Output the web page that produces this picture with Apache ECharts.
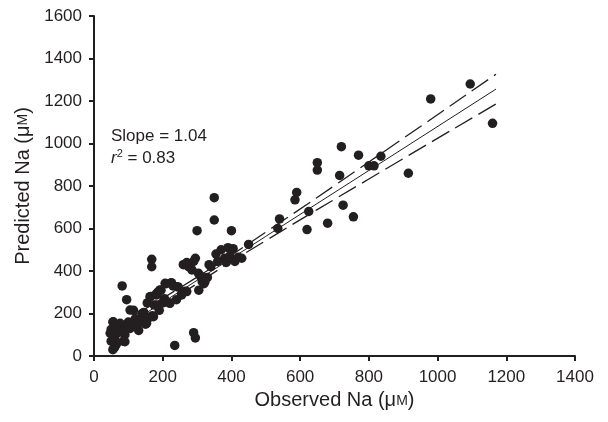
<!DOCTYPE html>
<html>
<head>
<meta charset="utf-8">
<script src="https://cdn.jsdelivr.net/npm/echarts@6/dist/echarts.min.js"></script>
<style>html,body{margin:0;padding:0;background:#fff;}#c{width:608px;height:422px;}</style>
</head>
<body>
<div id="c"></div>
<script>
var obsX = [55,60,65,50,60,55,70,50,65,55,75,80,90,85,95,100,105,110,120,125,130,140,150,160,170,115,95,82,140,145,
  155,165,175,180,185,190,195,200,205,210,220,225,230,240,245,255,260,265,270,275,285,290,295,300,305,310,315,320,330,335,
  340,350,350,355,360,370,380,385,390,395,400,405,410,420,430,450,168,168,290,295,235,
  76,105,124,139,153,173,56,61,47,90,163,182,192,207,226,241,255,270,304,313,323,221,182,143,
  535,540,585,590,620,625,650,650,680,715,720,725,755,770,800,815,835,915,980,1095,1160];
var predY = [30,40,55,70,85,100,110,125,140,160,150,120,100,70,135,160,130,150,175,145,120,160,150,180,190,215,265,330,200,205,
  250,280,240,290,300,215,310,250,270,340,250,345,330,265,325,290,430,305,440,420,405,445,460,590,310,375,350,340,370,430,
  420,745,640,480,445,500,460,440,510,470,590,505,445,465,460,525,455,420,110,85,50,
  154,216,146,169,154,185,161,122,107,67,279,287,311,342,342,326,287,303,389,373,350,248,240,201,
  600,645,735,770,595,680,910,875,625,850,985,710,655,945,895,895,940,860,1210,1280,1095];
var fitX = [50,300,500,800,1170];
var fitY = [97,356,563,873,1256];
var upperY = [127,371,583,913,1326];
var lowerY = [67,341,543,833,1186];
var xTicks = [0,200,400,600,800,1000,1200,1400];
var yTicks = [0,200,400,600,800,1000,1200,1400,1600];

function pairs(a,b){return a.map(function(v,i){return [v,b[i]];});}
var font = '"Liberation Sans", Arial, Helvetica, sans-serif';
var ink = '#231f20';
var chart = echarts.init(document.getElementById('c'), null, {renderer:'canvas'});
function axis(extra){
  return Object.assign({
    type:'value',
    axisLine:{show:true,lineStyle:{color:ink,width:2}},
    axisTick:{show:true,length:5,lineStyle:{color:ink,width:2}},
    splitLine:{show:false},
    nameLocation:'middle',
    nameTextStyle:{color:ink,fontSize:20,fontFamily:font,
      rich:{sm:{fontSize:14,fontFamily:font,color:ink}}}
  }, extra);
}
chart.setOption({
  animation:false,
  backgroundColor:'#fff',
  grid:{left:94,right:33,top:16,bottom:66},
  xAxis:axis({min:xTicks[0],max:xTicks[xTicks.length-1],interval:200,
    name:'Observed Na (μ{sm|M})',nameGap:33,
    axisLabel:{color:ink,fontSize:17,fontFamily:font,margin:13,formatter:function(v){return String(v);}}}),
  yAxis:axis({min:yTicks[0],max:yTicks[yTicks.length-1],interval:200,
    name:'Predicted Na (μ{sm|M})',nameGap:58,
    axisLabel:{color:ink,fontSize:17,fontFamily:font,margin:12,formatter:function(v){return String(v);}}}),
  series:[
    {type:'line',data:pairs(fitX,fitY),symbol:'none',smooth:false,lineStyle:{color:ink,width:1},z:3},
    {type:'line',data:pairs(fitX,upperY),symbol:'none',smooth:true,lineStyle:{color:ink,width:1.3,type:[20,7]},z:3},
    {type:'line',data:pairs(fitX,lowerY),symbol:'none',smooth:true,lineStyle:{color:ink,width:1.3,type:[20,7]},z:3},
    {type:'scatter',data:pairs(obsX,predY),symbol:'circle',symbolSize:9.5,itemStyle:{color:ink,opacity:1},z:4}
  ],
  graphic:[
    {type:'text',left:111,top:128,style:{text:'Slope = 1.04',font:'17px '+font,fill:ink}},
    {type:'text',left:111,top:148,style:{text:'{i|r}{sup|2}{n| = 0.83}',fill:ink,
      rich:{i:{fontStyle:'italic',fontSize:17,fontFamily:font},sup:{fontSize:11,fontFamily:font,verticalAlign:'top',padding:[0,0,9,0]},n:{fontSize:17,fontFamily:font}}}}
  ]
});
</script>
</body>
</html>
